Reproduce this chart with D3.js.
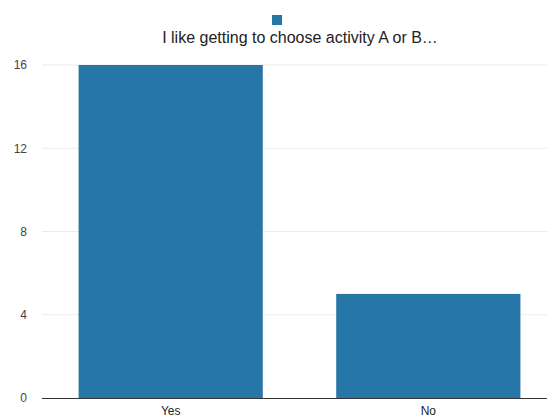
<!DOCTYPE html>
<html><head><meta charset="utf-8">
<script src="https://cdn.jsdelivr.net/npm/d3@7"></script>
<style>body{margin:0;background:#fff}svg{display:block;font-family:"Liberation Sans",Arial,sans-serif}</style>
</head><body>
<script>
const categories = ["Yes", "No"];
const values = [16, 5];
const yTicks = [0, 4, 8, 12, 16];
const seriesName = "I like getting to choose activity A or B…";

(function () {
const W = 547, H = 416;
const svg = d3.select("body").append("svg").attr("width", W).attr("height", H);
const mLeft = 42, mTop = 65, mBottom = 398;
const x = d3.scaleBand().domain(categories).range([mLeft, 557]).paddingInner(0.285).paddingOuter(0.142);
const y = d3.scaleLinear().domain([0, 16]).range([mBottom, mTop]);

const grid = svg.append("g");
grid.selectAll("line").data(yTicks.filter(d => d > 0)).join("line")
  .attr("x1", mLeft).attr("x2", W).attr("y1", d => y(d)).attr("y2", d => y(d))
  .attr("stroke", "#ebebeb").attr("stroke-width", 1);

svg.append("g").attr("transform", `translate(${mLeft},0)`)
  .call(d3.axisLeft(y).tickValues(yTicks).tickSize(0).tickPadding(15).tickFormat(d3.format("d")))
  .call(g => g.select(".domain").remove())
  .call(g => g.selectAll("text").attr("fill", "#444").attr("font-size", 12));

svg.append("g").selectAll("rect").data(values).join("rect")
  .attr("x", (d, i) => x(categories[i])).attr("width", x.bandwidth())
  .attr("y", d => y(d)).attr("height", d => mBottom - y(d))
  .attr("fill", "#2677a8");

svg.append("g").attr("transform", `translate(0,${mBottom})`)
  .call(d3.axisBottom(x).tickSize(0).tickPadding(8))
  .call(g => g.select(".domain").attr("d", `M${mLeft},0.5H${W}`).attr("stroke", "#333"))
  .call(g => g.selectAll("text").attr("fill", "#222").attr("font-size", 12));

svg.append("rect").attr("x", 272).attr("y", 15).attr("width", 10).attr("height", 10).attr("fill", "#2677a8");
svg.append("text").attr("x", 300).attr("y", 43).attr("text-anchor", "middle")
  .attr("font-size", 16).attr("fill", "#222").text(seriesName);
})();
</script>
</body></html>
